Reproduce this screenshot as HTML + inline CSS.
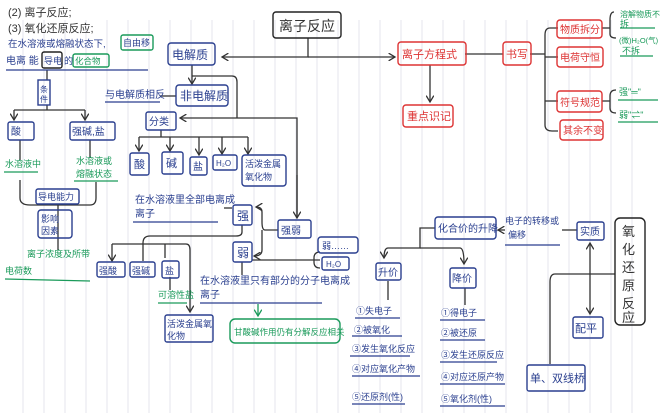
<!DOCTYPE html>
<html><head><meta charset="utf-8"><style>
html,body{margin:0;padding:0;background:#fff;}
svg{display:block;}
text{font-family:"Liberation Sans","Noto Sans CJK SC",sans-serif;}
</style></head><body>
<svg width="660" height="413" viewBox="0 0 660 413" xmlns="http://www.w3.org/2000/svg">
<rect width="660" height="413" fill="#fff"/>
<g stroke="#e4e6ee" stroke-width="1">
<line x1="23" y1="20" x2="23" y2="413"/><line x1="44" y1="20" x2="44" y2="413"/><line x1="65" y1="20" x2="65" y2="413"/><line x1="86" y1="20" x2="86" y2="413"/><line x1="107" y1="20" x2="107" y2="413"/><line x1="128" y1="20" x2="128" y2="413"/><line x1="149" y1="20" x2="149" y2="413"/><line x1="170" y1="20" x2="170" y2="413"/><line x1="191" y1="20" x2="191" y2="413"/><line x1="212" y1="20" x2="212" y2="413"/><line x1="233" y1="20" x2="233" y2="413"/><line x1="254" y1="20" x2="254" y2="413"/><line x1="275" y1="20" x2="275" y2="413"/><line x1="296" y1="20" x2="296" y2="413"/><line x1="317" y1="20" x2="317" y2="413"/><line x1="338" y1="20" x2="338" y2="413"/><line x1="359" y1="20" x2="359" y2="413"/><line x1="380" y1="20" x2="380" y2="413"/><line x1="401" y1="20" x2="401" y2="413"/><line x1="422" y1="20" x2="422" y2="413"/><line x1="443" y1="20" x2="443" y2="413"/><line x1="464" y1="20" x2="464" y2="413"/><line x1="485" y1="20" x2="485" y2="413"/><line x1="506" y1="20" x2="506" y2="413"/><line x1="527" y1="20" x2="527" y2="413"/><line x1="548" y1="20" x2="548" y2="413"/><line x1="569" y1="20" x2="569" y2="413"/><line x1="590" y1="20" x2="590" y2="413"/><line x1="611" y1="20" x2="611" y2="413"/><line x1="632" y1="20" x2="632" y2="413"/>
</g>
<defs><marker id="a" markerWidth="6" markerHeight="6" refX="5" refY="3" orient="auto-start-reverse"><path d="M0,0 L5,3 L0,6" fill="none" stroke="#333" stroke-width="1"/></marker>
<marker id="g" markerWidth="6" markerHeight="6" refX="5" refY="3" orient="auto"><path d="M0,0 L5,3 L0,6" fill="none" stroke="#1a9a5a" stroke-width="1"/></marker></defs>

<g stroke="#333" stroke-width="1.3" fill="none">
<path d="M308,38 V57 H222" marker-end="url(#a)"/>
<path d="M308,57 H395" marker-end="url(#a)"/>
<path d="M465,54 H503"/><path d="M530,54 H545"/>
<path d="M430,65 V102" marker-end="url(#a)"/>
<path d="M558,28 H550 Q545,28 545,35 V125 Q545,131 552,131 H558"/>
<path d="M545,57 H558"/><path d="M545,101 H558"/>
<path d="M602,28 H610"/><path d="M614,12 Q610,12 610,20 V34 Q610,38 616,38"/>
<path d="M602,101 H610"/><path d="M616,90 Q610,90 610,96 V108 Q610,113 616,113"/>
<path d="M192,65 V84" marker-end="url(#a)"/>
<path d="M192,76 H232 Q237,76 237,82 V118"/>
<path d="M160,96 H176"/>
<path d="M297,218 V118 H180" marker-end="url(#a)"/>
<path d="M297,175 V218" marker-end="url(#a)"/>
<path d="M161,130 V137 M139,137 H248"/>
<path d="M139,137 V151" marker-end="url(#a)"/><path d="M170,137 V151" marker-end="url(#a)"/><path d="M199,137 V155" marker-end="url(#a)"/><path d="M222,137 V154" marker-end="url(#a)"/><path d="M248,137 V154" marker-end="url(#a)"/>
<path d="M278,230 H265 Q262,230 262,222 V212 Q262,207 256,207" marker-end="url(#a)"/>
<path d="M262,230 V250 Q262,256 254,256" marker-end="url(#a)"/>
<path d="M252,260 H320 M320,252 Q314,252 314,258 V262 Q314,268 320,268"/>
<path d="M224,208 H232"/>
<path d="M242,225 V232 Q242,236 236,236 H150 Q143,236 143,243 V261"/>
<path d="M112,244 H186 Q190,244 190,250 V312" marker-end="url(#a)"/>
<path d="M112,244 V261" marker-end="url(#a)"/><path d="M165,244 V258"/>
<path d="M170,277 V290"/>
<path d="M242,262 V275"/>
<path d="M47,70 V80 M47,105 V110 M14,110 H85"/>
<path d="M14,110 V120" marker-end="url(#a)"/><path d="M85,110 V120" marker-end="url(#a)"/>
<path d="M20,140 V160 M90,140 V158"/>
<path d="M20,180 V198 Q20,205 30,205 H90 Q96,205 96,198 V182"/>
<path d="M58,205 V250"/>
<path d="M435,228 H420 V248 H388 Q384,248 384,258" marker-end="url(#a)"/>
<path d="M420,248 H460 Q464,248 464,264" marker-end="url(#a)"/>
<path d="M388,281 V300 M465,288 V305"/>
<path d="M577,230 H562"/><path d="M505,230 H498" marker-end="url(#a)"/>
<path d="M590,243 V314" marker-start="url(#a)" marker-end="url(#a)"/>
<path d="M615,274 H555 Q550,274 550,282 V364"/>
</g>
<g stroke="#1a9a5a" stroke-width="1.3" fill="none"><path d="M258,304 V316" marker-end="url(#g)"/></g>
<g stroke="#2a3f8f" stroke-width="1.2">
<line x1="6" y1="70" x2="148" y2="70"/><line x1="105" y1="102" x2="160" y2="102"/>
<line x1="133" y1="222" x2="218" y2="222"/><line x1="200" y1="303" x2="322" y2="303"/>
<line x1="355" y1="318" x2="400" y2="318"/><line x1="352" y1="336" x2="402" y2="336"/><line x1="350" y1="356" x2="410" y2="356"/><line x1="352" y1="376" x2="420" y2="376"/><line x1="352" y1="404" x2="405" y2="404"/>
<line x1="440" y1="320" x2="485" y2="320"/><line x1="440" y1="340" x2="485" y2="340"/><line x1="440" y1="362" x2="497" y2="362"/><line x1="440" y1="384" x2="505" y2="384"/><line x1="440" y1="406" x2="505" y2="406"/>
<line x1="505" y1="245" x2="560" y2="245"/>
</g>
<g stroke="#1a9a5a" stroke-width="1.2">
<line x1="4" y1="172" x2="38" y2="172"/><line x1="74" y1="181" x2="118" y2="181"/><line x1="5" y1="279" x2="90" y2="281"/><line x1="158" y1="303" x2="187" y2="303"/>
<line x1="620" y1="28" x2="655" y2="28"/><line x1="620" y1="56" x2="653" y2="56"/><line x1="618" y1="100" x2="658" y2="100"/><line x1="618" y1="122" x2="658" y2="122"/>
</g>

<g fill="none" stroke-width="1.4">
<rect x="273" y="12" width="68" height="26" rx="3" stroke="#222"/>
<rect x="168" y="43" width="47" height="22" rx="3" stroke="#2a3f8f"/>
<rect x="176" y="85" width="52" height="21" rx="3" stroke="#2a3f8f"/>
<rect x="146" y="112" width="30" height="18" rx="2" stroke="#2a3f8f"/>
<rect x="130" y="153" width="19" height="22" rx="2" stroke="#2a3f8f"/>
<rect x="162" y="152" width="21" height="22" rx="2" stroke="#2a3f8f"/>
<rect x="190" y="157" width="17" height="18" rx="2" stroke="#2a3f8f"/>
<rect x="213" y="155" width="24" height="15" rx="2" stroke="#2a3f8f"/>
<rect x="242" y="155" width="44" height="31" rx="3" stroke="#2a3f8f"/>
<rect x="233" y="205" width="19" height="20" rx="2" stroke="#2a3f8f"/>
<rect x="233" y="242" width="19" height="20" rx="2" stroke="#2a3f8f"/>
<rect x="278" y="220" width="33" height="18" rx="2" stroke="#2a3f8f"/>
<rect x="318" y="237" width="40" height="16" rx="3" stroke="#2a3f8f"/>
<rect x="322" y="257" width="27" height="13" rx="2" stroke="#2a3f8f"/>
<rect x="97" y="262" width="28" height="15" rx="2" stroke="#2a3f8f"/>
<rect x="130" y="262" width="25" height="15" rx="2" stroke="#2a3f8f"/>
<rect x="162" y="261" width="17" height="17" rx="2" stroke="#2a3f8f"/>
<rect x="165" y="315" width="48" height="27" rx="2" stroke="#2a3f8f"/>
<rect x="230" y="319" width="110" height="24" rx="5" stroke="#1a9a5a"/>
<rect x="8" y="122" width="26" height="18" rx="2" stroke="#2a3f8f"/>
<rect x="70" y="122" width="45" height="18" rx="2" stroke="#2a3f8f"/>
<rect x="38" y="80" width="12" height="25" stroke="#2a3f8f"/>
<rect x="36" y="189" width="43" height="15" rx="2" stroke="#2a3f8f"/>
<rect x="38" y="210" width="34" height="28" rx="3" stroke="#2a3f8f"/>
<rect x="42" y="52" width="20" height="16" rx="2" stroke="#222"/>
<rect x="121" y="35" width="32" height="15" rx="2" stroke="#1a9a5a"/>
<rect x="73" y="54" width="36" height="13" rx="2" stroke="#1a9a5a"/>
<rect x="398" y="42" width="68" height="23" rx="3" stroke="#d33"/>
<rect x="403" y="105" width="50" height="22" rx="3" stroke="#d33"/>
<rect x="503" y="42" width="28" height="23" rx="3" stroke="#d33"/>
<rect x="557" y="20" width="45" height="18" rx="3" stroke="#d33"/>
<rect x="557" y="47" width="46" height="20" rx="3" stroke="#d33"/>
<rect x="557" y="91" width="45" height="21" rx="3" stroke="#d33"/>
<rect x="560" y="120" width="43" height="20" rx="3" stroke="#d33"/>
<rect x="435" y="217" width="61" height="22" rx="3" stroke="#2a3f8f"/>
<rect x="577" y="222" width="27" height="18" rx="2" stroke="#2a3f8f"/>
<rect x="615" y="218" width="30" height="107" rx="5" stroke="#222"/>
<rect x="376" y="263" width="25" height="17" rx="2" stroke="#2a3f8f"/>
<rect x="450" y="268" width="26" height="20" rx="2" stroke="#2a3f8f"/>
<rect x="573" y="317" width="30" height="21" rx="2" stroke="#2a3f8f"/>
<rect x="527" y="365" width="58" height="26" rx="2" stroke="#2a3f8f"/>
</g>

<g font-size="11" fill="#333">
<text x="8" y="16">(2) 离子反应;</text>
<text x="8" y="32">(3) 氧化还原反应;</text>
<text x="279" y="31" font-size="14">离子反应</text>
<text x="622" y="236" font-size="13">氧</text><text x="622" y="254" font-size="13">化</text><text x="622" y="272" font-size="13">还</text><text x="622" y="290" font-size="13">原</text><text x="622" y="308" font-size="13">反</text><text x="622" y="322" font-size="13">应</text>
</g>
<g font-size="10" fill="#2a3f8f">
<text x="8" y="47" font-size="9.5">在水溶液或熔融状态下,</text><text x="123" y="46" font-size="9">自由移</text>
<text x="6" y="64">电离 能</text><text x="64" y="64"></text>
<text x="172" y="59" font-size="12">电解质</text>
<text x="180" y="100" font-size="12">非电解质</text>
<text x="105" y="98">与电解质相反</text>
<text x="149" y="125">分类</text>
<text x="134" y="168" font-size="11">酸</text><text x="166" y="167" font-size="11">碱</text><text x="193" y="170">盐</text><text x="216" y="166" font-size="8">H₂O</text>
<text x="245" y="167" font-size="9">活泼金属</text><text x="245" y="180" font-size="9">氧化物</text>
<text x="135" y="203">在水溶液里全部电离成</text><text x="135" y="217">离子</text>
<text x="237" y="220" font-size="12">强</text><text x="237" y="257" font-size="12">弱</text>
<text x="281" y="234">强弱</text>
<text x="322" y="249" font-size="9">弱……</text><text x="326" y="267" font-size="8">H₂O</text>
<text x="200" y="284">在水溶液里只有部分的分子电离成</text><text x="200" y="298">离子</text>
<text x="99" y="274" font-size="9">强酸</text><text x="132" y="274" font-size="9">强碱</text><text x="165" y="274" font-size="9">盐</text>
<text x="167" y="327" font-size="9">活泼金属氧</text><text x="167" y="339" font-size="9">化物</text>
<text x="40" y="92" font-size="8">条</text><text x="40" y="102" font-size="8">件</text>
<text x="11" y="135">酸</text><text x="72" y="135">强碱,盐</text>
<text x="38" y="200" font-size="9">导电能力</text>
<text x="41" y="222" font-size="9">影响</text><text x="41" y="234" font-size="9">因素</text>
<text x="44" y="64" font-size="9">导电</text><text x="64" y="64" font-size="9">的</text>
<text x="438" y="232">化合价的升降</text>
<text x="505" y="224" font-size="9">电子的转移或</text><text x="508" y="238" font-size="9">偏移</text>
<text x="580" y="235">实质</text>
<text x="378" y="276">升价</text><text x="452" y="282">降价</text>
<text x="575" y="332" font-size="11">配平</text>
<text x="530" y="382" font-size="11">单、双线桥</text>
<text x="356" y="314" font-size="9">①失电子</text><text x="354" y="333" font-size="9">②被氧化</text><text x="352" y="352" font-size="9">③发生氧化反应</text><text x="352" y="372" font-size="9">④对应氧化产物</text><text x="352" y="400" font-size="9">⑤还原剂(性)</text>
<text x="441" y="316" font-size="9">①得电子</text><text x="441" y="336" font-size="9">②被还原</text><text x="441" y="358" font-size="9">③发生还原反应</text><text x="441" y="380" font-size="9">④对应还原产物</text><text x="441" y="402" font-size="9">⑤氧化剂(性)</text>
</g>
<g font-size="9" fill="#1a9a5a">
<text x="75" y="64" font-size="8.5">化合物</text>
<text x="5" y="167">水溶液中</text>
<text x="76" y="164">水溶液或</text><text x="76" y="177">熔融状态</text>
<text x="27" y="257">离子浓度及所带</text><text x="5" y="274">电荷数</text>
<text x="158" y="298">可溶性盐</text>
<text x="234" y="335" font-size="8.5">甘酸碱作用仍有分解反应相关</text>
<text x="620" y="17" font-size="8">溶解物质不</text><text x="620" y="27">拆</text>
<text x="619" y="43" font-size="7.5">(微)H₂O(气)</text><text x="622" y="54">不拆</text>
<text x="619" y="95">强"═"</text><text x="619" y="118">弱"⇌"</text>
</g>
<g font-size="11" fill="#d33">
<text x="402" y="58">离子方程式</text>
<text x="407" y="120">重点识记</text>
<text x="506" y="58">书写</text>
<text x="560" y="33" font-size="10">物质拆分</text>
<text x="560" y="61" font-size="10">电荷守恒</text>
<text x="560" y="106" font-size="10">符号规范</text>
<text x="563" y="134" font-size="10">其余不变</text>
</g>
</svg>
</body></html>
